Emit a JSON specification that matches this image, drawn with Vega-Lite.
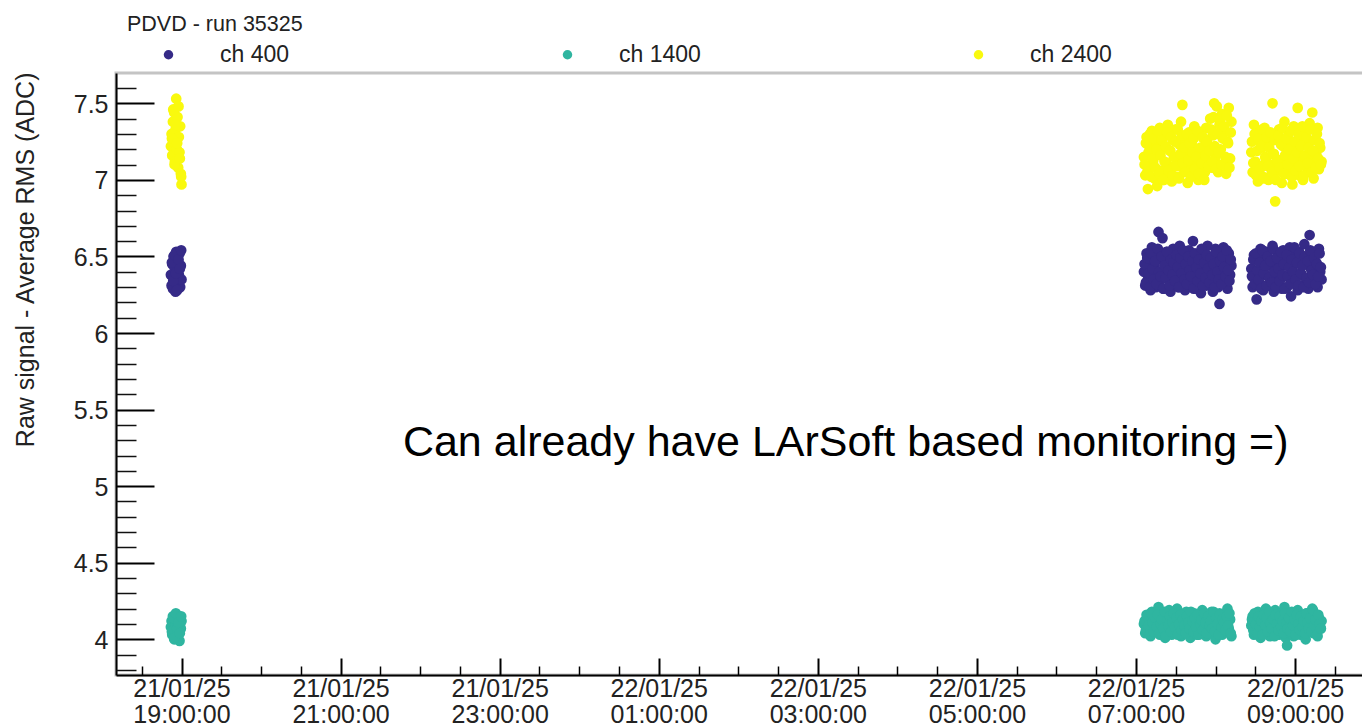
{
  "$schema": "https://vega.github.io/schema/vega-lite/v6.json",
  "width": 1249,
  "height": 602,
  "autosize": "none",
  "padding": {"left": 116, "top": 73, "right": -3, "bottom": 52},
  "background": "white",
  "config": {
    "font": "Liberation Sans",
    "view": {"stroke": "#c4c4c4", "strokeWidth": 3},
    "axis": {"grid": false, "labelFlush": false, "labelOverlap": false, "labelBound": false}
  },
  "title": {
    "text": "PDVD - run 35325",
    "anchor": "start",
    "frame": "group",
    "fontSize": 21.5,
    "fontWeight": "normal",
    "color": "#222",
    "baseline": "alphabetic",
    "offset": 16,
    "dy": 25,
    "dx": 11
  },
  "datasets": {
    "runs": [
      {"t": "2025-01-21T18:52:00", "ch 400": 6.38, "ch 1400": 4.08, "ch 2400": 7.22},
      {"t": "2025-01-21T18:52:30", "ch 400": 6.31, "ch 1400": 4.12, "ch 2400": 7.30},
      {"t": "2025-01-21T18:53:00", "ch 400": 6.45, "ch 1400": 4.03, "ch 2400": 7.16},
      {"t": "2025-01-21T18:53:30", "ch 400": 6.29, "ch 1400": 4.15, "ch 2400": 7.38},
      {"t": "2025-01-21T18:54:00", "ch 400": 6.50, "ch 1400": 4.06, "ch 2400": 7.25},
      {"t": "2025-01-21T18:54:30", "ch 400": 6.36, "ch 1400": 4.00, "ch 2400": 7.44},
      {"t": "2025-01-21T18:55:00", "ch 400": 6.42, "ch 1400": 4.13, "ch 2400": 7.12},
      {"t": "2025-01-21T18:55:30", "ch 400": 6.27, "ch 1400": 4.09, "ch 2400": 7.33},
      {"t": "2025-01-21T18:56:00", "ch 400": 6.53, "ch 1400": 4.16, "ch 2400": 7.53},
      {"t": "2025-01-21T18:56:30", "ch 400": 6.40, "ch 1400": 4.02, "ch 2400": 7.20},
      {"t": "2025-01-21T18:57:00", "ch 400": 6.33, "ch 1400": 4.11, "ch 2400": 7.41},
      {"t": "2025-01-21T18:57:30", "ch 400": 6.47, "ch 1400": 4.05, "ch 2400": 7.08},
      {"t": "2025-01-21T18:58:00", "ch 400": 6.38, "ch 1400": 4.14, "ch 2400": 7.28},
      {"t": "2025-01-21T18:58:30", "ch 400": 6.52, "ch 1400": 3.99, "ch 2400": 7.18},
      {"t": "2025-01-21T18:59:00", "ch 400": 6.30, "ch 1400": 4.10, "ch 2400": 7.35},
      {"t": "2025-01-21T18:59:30", "ch 400": 6.44, "ch 1400": 4.07, "ch 2400": 7.04},
      {"t": "2025-01-21T19:00:00", "ch 400": 6.35, "ch 1400": 4.12, "ch 2400": 6.97},
      {"t": "2025-01-21T18:52:45", "ch 400": 6.46, "ch 1400": 4.05, "ch 2400": 7.27},
      {"t": "2025-01-21T18:53:45", "ch 400": 6.34, "ch 1400": 4.14, "ch 2400": 7.46},
      {"t": "2025-01-21T18:54:45", "ch 400": 6.51, "ch 1400": 4.01, "ch 2400": 7.10},
      {"t": "2025-01-21T18:55:45", "ch 400": 6.39, "ch 1400": 4.17, "ch 2400": 7.36},
      {"t": "2025-01-21T18:56:45", "ch 400": 6.28, "ch 1400": 4.07, "ch 2400": 7.24},
      {"t": "2025-01-21T18:57:45", "ch 400": 6.48, "ch 1400": 4.11, "ch 2400": 7.48},
      {"t": "2025-01-21T18:58:45", "ch 400": 6.42, "ch 1400": 4.04, "ch 2400": 7.14},
      {"t": "2025-01-21T18:59:45", "ch 400": 6.54, "ch 1400": 4.15, "ch 2400": 7.02},
      {"t": "2025-01-22T07:06:00", "ch 400": 6.40, "ch 1400": 4.10, "ch 2400": 7.15},
      {"t": "2025-01-22T07:07:00", "ch 400": 6.31, "ch 1400": 4.04, "ch 2400": 7.03},
      {"t": "2025-01-22T07:08:00", "ch 400": 6.52, "ch 1400": 4.16, "ch 2400": 7.28},
      {"t": "2025-01-22T07:09:00", "ch 400": 6.35, "ch 1400": 4.07, "ch 2400": 6.94},
      {"t": "2025-01-22T07:10:00", "ch 400": 6.47, "ch 1400": 4.13, "ch 2400": 7.22},
      {"t": "2025-01-22T07:11:00", "ch 400": 6.28, "ch 1400": 4.02, "ch 2400": 7.08},
      {"t": "2025-01-22T07:12:00", "ch 400": 6.56, "ch 1400": 4.18, "ch 2400": 7.32},
      {"t": "2025-01-22T07:13:00", "ch 400": 6.38, "ch 1400": 4.09, "ch 2400": 7.12},
      {"t": "2025-01-22T07:14:00", "ch 400": 6.44, "ch 1400": 4.05, "ch 2400": 7.01},
      {"t": "2025-01-22T07:15:00", "ch 400": 6.30, "ch 1400": 4.15, "ch 2400": 7.25},
      {"t": "2025-01-22T07:16:00", "ch 400": 6.50, "ch 1400": 4.11, "ch 2400": 6.96},
      {"t": "2025-01-22T07:17:00", "ch 400": 6.66, "ch 1400": 4.21, "ch 2400": 7.18},
      {"t": "2025-01-22T07:18:00", "ch 400": 6.34, "ch 1400": 4.03, "ch 2400": 7.34},
      {"t": "2025-01-22T07:19:00", "ch 400": 6.48, "ch 1400": 4.14, "ch 2400": 7.06},
      {"t": "2025-01-22T07:20:00", "ch 400": 6.62, "ch 1400": 4.08, "ch 2400": 7.21},
      {"t": "2025-01-22T07:21:00", "ch 400": 6.29, "ch 1400": 4.17, "ch 2400": 7.00},
      {"t": "2025-01-22T07:22:00", "ch 400": 6.43, "ch 1400": 4.01, "ch 2400": 7.29},
      {"t": "2025-01-22T07:23:00", "ch 400": 6.53, "ch 1400": 4.12, "ch 2400": 7.11},
      {"t": "2025-01-22T07:24:00", "ch 400": 6.36, "ch 1400": 4.06, "ch 2400": 7.36},
      {"t": "2025-01-22T07:25:00", "ch 400": 6.46, "ch 1400": 4.19, "ch 2400": 7.04},
      {"t": "2025-01-22T07:26:00", "ch 400": 6.27, "ch 1400": 4.09, "ch 2400": 7.19},
      {"t": "2025-01-22T07:27:00", "ch 400": 6.41, "ch 1400": 4.03, "ch 2400": 6.99},
      {"t": "2025-01-22T07:28:00", "ch 400": 6.55, "ch 1400": 4.15, "ch 2400": 7.26},
      {"t": "2025-01-22T07:29:00", "ch 400": 6.33, "ch 1400": 4.10, "ch 2400": 7.09},
      {"t": "2025-01-22T07:30:00", "ch 400": 6.49, "ch 1400": 4.05, "ch 2400": 7.33},
      {"t": "2025-01-22T07:31:00", "ch 400": 6.39, "ch 1400": 4.20, "ch 2400": 7.14},
      {"t": "2025-01-22T07:32:00", "ch 400": 6.30, "ch 1400": 4.07, "ch 2400": 7.02},
      {"t": "2025-01-22T07:33:00", "ch 400": 6.57, "ch 1400": 4.13, "ch 2400": 7.23},
      {"t": "2025-01-22T07:34:00", "ch 400": 6.42, "ch 1400": 4.02, "ch 2400": 7.38},
      {"t": "2025-01-22T07:35:00", "ch 400": 6.35, "ch 1400": 4.16, "ch 2400": 7.49},
      {"t": "2025-01-22T07:36:00", "ch 400": 6.51, "ch 1400": 4.11, "ch 2400": 7.07},
      {"t": "2025-01-22T07:37:00", "ch 400": 6.28, "ch 1400": 4.04, "ch 2400": 7.27},
      {"t": "2025-01-22T07:38:00", "ch 400": 6.45, "ch 1400": 4.18, "ch 2400": 7.16},
      {"t": "2025-01-22T07:39:00", "ch 400": 6.37, "ch 1400": 4.08, "ch 2400": 6.98},
      {"t": "2025-01-22T07:40:00", "ch 400": 6.54, "ch 1400": 4.14, "ch 2400": 7.31},
      {"t": "2025-01-22T07:41:00", "ch 400": 6.32, "ch 1400": 4.01, "ch 2400": 7.10},
      {"t": "2025-01-22T07:42:00", "ch 400": 6.47, "ch 1400": 4.12, "ch 2400": 7.24},
      {"t": "2025-01-22T07:43:00", "ch 400": 6.60, "ch 1400": 4.06, "ch 2400": 7.03},
      {"t": "2025-01-22T07:44:00", "ch 400": 6.40, "ch 1400": 4.17, "ch 2400": 7.35},
      {"t": "2025-01-22T07:45:00", "ch 400": 6.29, "ch 1400": 4.09, "ch 2400": 7.13},
      {"t": "2025-01-22T07:46:00", "ch 400": 6.50, "ch 1400": 4.03, "ch 2400": 7.20},
      {"t": "2025-01-22T07:47:00", "ch 400": 6.36, "ch 1400": 4.15, "ch 2400": 7.00},
      {"t": "2025-01-22T07:48:00", "ch 400": 6.44, "ch 1400": 4.10, "ch 2400": 7.30},
      {"t": "2025-01-22T07:49:00", "ch 400": 6.26, "ch 1400": 4.05, "ch 2400": 7.08},
      {"t": "2025-01-22T07:50:00", "ch 400": 6.53, "ch 1400": 4.19, "ch 2400": 7.17},
      {"t": "2025-01-22T07:51:00", "ch 400": 6.38, "ch 1400": 4.07, "ch 2400": 7.27},
      {"t": "2025-01-22T07:52:00", "ch 400": 6.46, "ch 1400": 4.13, "ch 2400": 7.05},
      {"t": "2025-01-22T07:53:00", "ch 400": 6.31, "ch 1400": 4.02, "ch 2400": 7.34},
      {"t": "2025-01-22T07:54:00", "ch 400": 6.57, "ch 1400": 4.16, "ch 2400": 7.12},
      {"t": "2025-01-22T07:55:00", "ch 400": 6.41, "ch 1400": 4.11, "ch 2400": 7.22},
      {"t": "2025-01-22T07:56:00", "ch 400": 6.34, "ch 1400": 4.04, "ch 2400": 7.40},
      {"t": "2025-01-22T07:57:00", "ch 400": 6.49, "ch 1400": 4.18, "ch 2400": 7.08},
      {"t": "2025-01-22T07:58:00", "ch 400": 6.27, "ch 1400": 4.08, "ch 2400": 7.29},
      {"t": "2025-01-22T07:59:00", "ch 400": 6.43, "ch 1400": 4.14, "ch 2400": 7.50},
      {"t": "2025-01-22T08:00:00", "ch 400": 6.55, "ch 1400": 4.00, "ch 2400": 7.15},
      {"t": "2025-01-22T08:01:00", "ch 400": 6.37, "ch 1400": 4.12, "ch 2400": 7.48},
      {"t": "2025-01-22T08:02:00", "ch 400": 6.30, "ch 1400": 4.06, "ch 2400": 7.05},
      {"t": "2025-01-22T08:03:00", "ch 400": 6.19, "ch 1400": 4.17, "ch 2400": 7.36},
      {"t": "2025-01-22T08:04:00", "ch 400": 6.48, "ch 1400": 4.09, "ch 2400": 7.20},
      {"t": "2025-01-22T08:05:00", "ch 400": 6.40, "ch 1400": 4.03, "ch 2400": 7.43},
      {"t": "2025-01-22T08:06:00", "ch 400": 6.56, "ch 1400": 4.15, "ch 2400": 7.10},
      {"t": "2025-01-22T08:07:00", "ch 400": 6.33, "ch 1400": 4.10, "ch 2400": 7.32},
      {"t": "2025-01-22T08:08:00", "ch 400": 6.45, "ch 1400": 4.05, "ch 2400": 7.04},
      {"t": "2025-01-22T08:09:00", "ch 400": 6.29, "ch 1400": 4.20, "ch 2400": 7.25},
      {"t": "2025-01-22T08:10:00", "ch 400": 6.52, "ch 1400": 4.07, "ch 2400": 7.47},
      {"t": "2025-01-22T08:11:00", "ch 400": 6.38, "ch 1400": 4.13, "ch 2400": 7.14},
      {"t": "2025-01-22T08:12:00", "ch 400": 6.44, "ch 1400": 4.02, "ch 2400": 7.38},
      {"t": "2025-01-22T07:06:30", "ch 400": 6.45, "ch 1400": 4.12, "ch 2400": 7.10},
      {"t": "2025-01-22T07:07:30", "ch 400": 6.33, "ch 1400": 4.06, "ch 2400": 7.24},
      {"t": "2025-01-22T07:08:30", "ch 400": 6.49, "ch 1400": 4.15, "ch 2400": 7.05},
      {"t": "2025-01-22T07:09:30", "ch 400": 6.39, "ch 1400": 4.09, "ch 2400": 7.18},
      {"t": "2025-01-22T07:10:30", "ch 400": 6.30, "ch 1400": 4.03, "ch 2400": 7.30},
      {"t": "2025-01-22T07:11:30", "ch 400": 6.52, "ch 1400": 4.17, "ch 2400": 7.02},
      {"t": "2025-01-22T07:12:30", "ch 400": 6.42, "ch 1400": 4.11, "ch 2400": 7.14},
      {"t": "2025-01-22T07:13:30", "ch 400": 6.35, "ch 1400": 4.05, "ch 2400": 7.27},
      {"t": "2025-01-22T07:14:30", "ch 400": 6.47, "ch 1400": 4.14, "ch 2400": 7.08},
      {"t": "2025-01-22T07:15:30", "ch 400": 6.32, "ch 1400": 4.08, "ch 2400": 7.20},
      {"t": "2025-01-22T07:16:30", "ch 400": 6.55, "ch 1400": 4.16, "ch 2400": 7.32},
      {"t": "2025-01-22T07:17:30", "ch 400": 6.40, "ch 1400": 4.04, "ch 2400": 7.04},
      {"t": "2025-01-22T07:18:30", "ch 400": 6.37, "ch 1400": 4.10, "ch 2400": 7.16},
      {"t": "2025-01-22T07:19:30", "ch 400": 6.50, "ch 1400": 4.13, "ch 2400": 7.26},
      {"t": "2025-01-22T07:20:30", "ch 400": 6.29, "ch 1400": 4.07, "ch 2400": 7.00},
      {"t": "2025-01-22T07:21:30", "ch 400": 6.44, "ch 1400": 4.18, "ch 2400": 7.12},
      {"t": "2025-01-22T07:22:30", "ch 400": 6.36, "ch 1400": 4.02, "ch 2400": 7.22},
      {"t": "2025-01-22T07:23:30", "ch 400": 6.53, "ch 1400": 4.12, "ch 2400": 7.31},
      {"t": "2025-01-22T07:24:30", "ch 400": 6.41, "ch 1400": 4.09, "ch 2400": 7.06},
      {"t": "2025-01-22T07:25:30", "ch 400": 6.31, "ch 1400": 4.15, "ch 2400": 7.19},
      {"t": "2025-01-22T07:26:30", "ch 400": 6.48, "ch 1400": 4.05, "ch 2400": 7.28},
      {"t": "2025-01-22T07:27:30", "ch 400": 6.38, "ch 1400": 4.11, "ch 2400": 7.03},
      {"t": "2025-01-22T07:28:30", "ch 400": 6.46, "ch 1400": 4.17, "ch 2400": 7.15},
      {"t": "2025-01-22T07:29:30", "ch 400": 6.34, "ch 1400": 4.08, "ch 2400": 7.25},
      {"t": "2025-01-22T07:30:30", "ch 400": 6.51, "ch 1400": 4.14, "ch 2400": 7.09},
      {"t": "2025-01-22T07:31:30", "ch 400": 6.43, "ch 1400": 4.03, "ch 2400": 7.33},
      {"t": "2025-01-22T07:32:30", "ch 400": 6.30, "ch 1400": 4.10, "ch 2400": 7.01},
      {"t": "2025-01-22T07:33:30", "ch 400": 6.49, "ch 1400": 4.16, "ch 2400": 7.17},
      {"t": "2025-01-22T07:34:30", "ch 400": 6.39, "ch 1400": 4.06, "ch 2400": 7.29},
      {"t": "2025-01-22T07:35:30", "ch 400": 6.54, "ch 1400": 4.13, "ch 2400": 7.11},
      {"t": "2025-01-22T07:36:30", "ch 400": 6.35, "ch 1400": 4.09, "ch 2400": 7.21},
      {"t": "2025-01-22T07:37:30", "ch 400": 6.45, "ch 1400": 4.04, "ch 2400": 7.05},
      {"t": "2025-01-22T07:38:30", "ch 400": 6.32, "ch 1400": 4.15, "ch 2400": 7.30},
      {"t": "2025-01-22T07:39:30", "ch 400": 6.50, "ch 1400": 4.11, "ch 2400": 7.13},
      {"t": "2025-01-22T07:40:30", "ch 400": 6.41, "ch 1400": 4.07, "ch 2400": 7.24},
      {"t": "2025-01-22T07:41:30", "ch 400": 6.37, "ch 1400": 4.18, "ch 2400": 7.02},
      {"t": "2025-01-22T07:42:30", "ch 400": 6.47, "ch 1400": 4.12, "ch 2400": 7.18},
      {"t": "2025-01-22T07:43:30", "ch 400": 6.29, "ch 1400": 4.05, "ch 2400": 7.27},
      {"t": "2025-01-22T07:44:30", "ch 400": 6.52, "ch 1400": 4.14, "ch 2400": 7.07},
      {"t": "2025-01-22T07:45:30", "ch 400": 6.43, "ch 1400": 4.08, "ch 2400": 7.15},
      {"t": "2025-01-22T07:46:30", "ch 400": 6.34, "ch 1400": 4.16, "ch 2400": 7.32},
      {"t": "2025-01-22T07:47:30", "ch 400": 6.48, "ch 1400": 4.03, "ch 2400": 7.04},
      {"t": "2025-01-22T07:48:30", "ch 400": 6.39, "ch 1400": 4.10, "ch 2400": 7.21},
      {"t": "2025-01-22T07:49:30", "ch 400": 6.55, "ch 1400": 4.13, "ch 2400": 7.11},
      {"t": "2025-01-22T07:50:30", "ch 400": 6.31, "ch 1400": 4.06, "ch 2400": 7.28},
      {"t": "2025-01-22T07:51:30", "ch 400": 6.46, "ch 1400": 4.17, "ch 2400": 7.00},
      {"t": "2025-01-22T07:52:30", "ch 400": 6.36, "ch 1400": 4.11, "ch 2400": 7.16},
      {"t": "2025-01-22T07:53:30", "ch 400": 6.51, "ch 1400": 4.04, "ch 2400": 7.25},
      {"t": "2025-01-22T07:54:30", "ch 400": 6.42, "ch 1400": 4.15, "ch 2400": 7.09},
      {"t": "2025-01-22T07:55:30", "ch 400": 6.33, "ch 1400": 4.09, "ch 2400": 7.19},
      {"t": "2025-01-22T07:56:30", "ch 400": 6.49, "ch 1400": 4.12, "ch 2400": 7.33},
      {"t": "2025-01-22T07:57:30", "ch 400": 6.38, "ch 1400": 4.07, "ch 2400": 7.12},
      {"t": "2025-01-22T07:58:30", "ch 400": 6.45, "ch 1400": 4.18, "ch 2400": 7.41},
      {"t": "2025-01-22T07:59:30", "ch 400": 6.30, "ch 1400": 4.05, "ch 2400": 7.22},
      {"t": "2025-01-22T08:00:30", "ch 400": 6.53, "ch 1400": 4.14, "ch 2400": 7.07},
      {"t": "2025-01-22T08:01:30", "ch 400": 6.40, "ch 1400": 4.10, "ch 2400": 7.30},
      {"t": "2025-01-22T08:02:30", "ch 400": 6.35, "ch 1400": 4.03, "ch 2400": 7.18},
      {"t": "2025-01-22T08:03:30", "ch 400": 6.47, "ch 1400": 4.16, "ch 2400": 7.39},
      {"t": "2025-01-22T08:04:30", "ch 400": 6.32, "ch 1400": 4.08, "ch 2400": 7.10},
      {"t": "2025-01-22T08:05:30", "ch 400": 6.50, "ch 1400": 4.13, "ch 2400": 7.27},
      {"t": "2025-01-22T08:06:30", "ch 400": 6.43, "ch 1400": 4.11, "ch 2400": 7.35},
      {"t": "2025-01-22T08:07:30", "ch 400": 6.37, "ch 1400": 4.06, "ch 2400": 7.15},
      {"t": "2025-01-22T08:08:30", "ch 400": 6.54, "ch 1400": 4.15, "ch 2400": 7.42},
      {"t": "2025-01-22T08:09:30", "ch 400": 6.41, "ch 1400": 4.09, "ch 2400": 7.24},
      {"t": "2025-01-22T08:10:30", "ch 400": 6.34, "ch 1400": 4.17, "ch 2400": 7.08},
      {"t": "2025-01-22T08:11:30", "ch 400": 6.48, "ch 1400": 4.04, "ch 2400": 7.31},
      {"t": "2025-01-22T08:27:00", "ch 400": 6.42, "ch 1400": 4.09, "ch 2400": 7.18},
      {"t": "2025-01-22T08:28:00", "ch 400": 6.30, "ch 1400": 4.15, "ch 2400": 7.05},
      {"t": "2025-01-22T08:29:00", "ch 400": 6.51, "ch 1400": 4.03, "ch 2400": 7.36},
      {"t": "2025-01-22T08:30:00", "ch 400": 6.36, "ch 1400": 4.12, "ch 2400": 7.12},
      {"t": "2025-01-22T08:31:00", "ch 400": 6.22, "ch 1400": 4.06, "ch 2400": 7.26},
      {"t": "2025-01-22T08:32:00", "ch 400": 6.47, "ch 1400": 4.18, "ch 2400": 6.99},
      {"t": "2025-01-22T08:33:00", "ch 400": 6.33, "ch 1400": 4.08, "ch 2400": 7.31},
      {"t": "2025-01-22T08:34:00", "ch 400": 6.55, "ch 1400": 4.01, "ch 2400": 7.09},
      {"t": "2025-01-22T08:35:00", "ch 400": 6.40, "ch 1400": 4.14, "ch 2400": 7.21},
      {"t": "2025-01-22T08:36:00", "ch 400": 6.28, "ch 1400": 4.10, "ch 2400": 7.02},
      {"t": "2025-01-22T08:37:00", "ch 400": 6.49, "ch 1400": 4.04, "ch 2400": 7.34},
      {"t": "2025-01-22T08:38:00", "ch 400": 6.38, "ch 1400": 4.20, "ch 2400": 7.14},
      {"t": "2025-01-22T08:39:00", "ch 400": 6.53, "ch 1400": 4.07, "ch 2400": 7.24},
      {"t": "2025-01-22T08:40:00", "ch 400": 6.31, "ch 1400": 4.13, "ch 2400": 7.00},
      {"t": "2025-01-22T08:41:00", "ch 400": 6.44, "ch 1400": 4.02, "ch 2400": 7.29},
      {"t": "2025-01-22T08:42:00", "ch 400": 6.35, "ch 1400": 4.16, "ch 2400": 7.10},
      {"t": "2025-01-22T08:43:00", "ch 400": 6.57, "ch 1400": 4.11, "ch 2400": 7.50},
      {"t": "2025-01-22T08:44:00", "ch 400": 6.27, "ch 1400": 4.05, "ch 2400": 7.17},
      {"t": "2025-01-22T08:45:00", "ch 400": 6.46, "ch 1400": 4.19, "ch 2400": 6.86},
      {"t": "2025-01-22T08:46:00", "ch 400": 6.39, "ch 1400": 4.08, "ch 2400": 7.27},
      {"t": "2025-01-22T08:47:00", "ch 400": 6.52, "ch 1400": 4.14, "ch 2400": 7.06},
      {"t": "2025-01-22T08:48:00", "ch 400": 6.32, "ch 1400": 4.03, "ch 2400": 7.33},
      {"t": "2025-01-22T08:49:00", "ch 400": 6.43, "ch 1400": 4.17, "ch 2400": 7.13},
      {"t": "2025-01-22T08:50:00", "ch 400": 6.29, "ch 1400": 4.10, "ch 2400": 6.98},
      {"t": "2025-01-22T08:51:00", "ch 400": 6.54, "ch 1400": 4.06, "ch 2400": 7.22},
      {"t": "2025-01-22T08:52:00", "ch 400": 6.37, "ch 1400": 4.21, "ch 2400": 7.38},
      {"t": "2025-01-22T08:53:00", "ch 400": 6.48, "ch 1400": 4.01, "ch 2400": 7.04},
      {"t": "2025-01-22T08:54:00", "ch 400": 6.30, "ch 1400": 3.96, "ch 2400": 7.19},
      {"t": "2025-01-22T08:55:00", "ch 400": 6.45, "ch 1400": 4.12, "ch 2400": 7.30},
      {"t": "2025-01-22T08:56:00", "ch 400": 6.56, "ch 1400": 4.04, "ch 2400": 7.08},
      {"t": "2025-01-22T08:57:00", "ch 400": 6.24, "ch 1400": 4.16, "ch 2400": 7.25},
      {"t": "2025-01-22T08:58:00", "ch 400": 6.41, "ch 1400": 4.09, "ch 2400": 6.97},
      {"t": "2025-01-22T08:59:00", "ch 400": 6.50, "ch 1400": 4.02, "ch 2400": 7.35},
      {"t": "2025-01-22T09:00:00", "ch 400": 6.34, "ch 1400": 4.14, "ch 2400": 7.11},
      {"t": "2025-01-22T09:01:00", "ch 400": 6.46, "ch 1400": 4.07, "ch 2400": 7.20},
      {"t": "2025-01-22T09:02:00", "ch 400": 6.28, "ch 1400": 4.19, "ch 2400": 7.47},
      {"t": "2025-01-22T09:03:00", "ch 400": 6.53, "ch 1400": 4.11, "ch 2400": 7.03},
      {"t": "2025-01-22T09:04:00", "ch 400": 6.38, "ch 1400": 4.03, "ch 2400": 7.28},
      {"t": "2025-01-22T09:05:00", "ch 400": 6.44, "ch 1400": 4.15, "ch 2400": 7.15},
      {"t": "2025-01-22T09:06:00", "ch 400": 6.31, "ch 1400": 4.08, "ch 2400": 7.00},
      {"t": "2025-01-22T09:07:00", "ch 400": 6.58, "ch 1400": 4.12, "ch 2400": 7.32},
      {"t": "2025-01-22T09:08:00", "ch 400": 6.36, "ch 1400": 4.00, "ch 2400": 7.09},
      {"t": "2025-01-22T09:09:00", "ch 400": 6.49, "ch 1400": 4.17, "ch 2400": 7.23},
      {"t": "2025-01-22T09:10:00", "ch 400": 6.29, "ch 1400": 4.06, "ch 2400": 7.05},
      {"t": "2025-01-22T09:11:00", "ch 400": 6.64, "ch 1400": 4.13, "ch 2400": 7.37},
      {"t": "2025-01-22T09:12:00", "ch 400": 6.42, "ch 1400": 4.09, "ch 2400": 7.13},
      {"t": "2025-01-22T09:13:00", "ch 400": 6.33, "ch 1400": 4.20, "ch 2400": 7.44},
      {"t": "2025-01-22T09:14:00", "ch 400": 6.51, "ch 1400": 4.04, "ch 2400": 7.01},
      {"t": "2025-01-22T09:15:00", "ch 400": 6.38, "ch 1400": 4.11, "ch 2400": 7.26},
      {"t": "2025-01-22T09:16:00", "ch 400": 6.46, "ch 1400": 4.16, "ch 2400": 7.17},
      {"t": "2025-01-22T09:17:00", "ch 400": 6.30, "ch 1400": 4.02, "ch 2400": 7.34},
      {"t": "2025-01-22T09:18:00", "ch 400": 6.55, "ch 1400": 4.14, "ch 2400": 7.07},
      {"t": "2025-01-22T09:19:00", "ch 400": 6.40, "ch 1400": 4.08, "ch 2400": 7.21},
      {"t": "2025-01-22T09:20:00", "ch 400": 6.35, "ch 1400": 4.12, "ch 2400": 7.12},
      {"t": "2025-01-22T08:27:30", "ch 400": 6.37, "ch 1400": 4.13, "ch 2400": 7.25},
      {"t": "2025-01-22T08:28:30", "ch 400": 6.48, "ch 1400": 4.06, "ch 2400": 7.11},
      {"t": "2025-01-22T08:29:30", "ch 400": 6.32, "ch 1400": 4.17, "ch 2400": 7.30},
      {"t": "2025-01-22T08:30:30", "ch 400": 6.52, "ch 1400": 4.10, "ch 2400": 7.03},
      {"t": "2025-01-22T08:31:30", "ch 400": 6.41, "ch 1400": 4.04, "ch 2400": 7.19},
      {"t": "2025-01-22T08:32:30", "ch 400": 6.35, "ch 1400": 4.15, "ch 2400": 7.27},
      {"t": "2025-01-22T08:33:30", "ch 400": 6.46, "ch 1400": 4.08, "ch 2400": 7.07},
      {"t": "2025-01-22T08:34:30", "ch 400": 6.29, "ch 1400": 4.12, "ch 2400": 7.22},
      {"t": "2025-01-22T08:35:30", "ch 400": 6.54, "ch 1400": 4.03, "ch 2400": 7.33},
      {"t": "2025-01-22T08:36:30", "ch 400": 6.39, "ch 1400": 4.16, "ch 2400": 7.01},
      {"t": "2025-01-22T08:37:30", "ch 400": 6.44, "ch 1400": 4.09, "ch 2400": 7.15},
      {"t": "2025-01-22T08:38:30", "ch 400": 6.31, "ch 1400": 4.14, "ch 2400": 7.28},
      {"t": "2025-01-22T08:39:30", "ch 400": 6.50, "ch 1400": 4.05, "ch 2400": 7.09},
      {"t": "2025-01-22T08:40:30", "ch 400": 6.36, "ch 1400": 4.18, "ch 2400": 7.21},
      {"t": "2025-01-22T08:41:30", "ch 400": 6.47, "ch 1400": 4.11, "ch 2400": 7.31},
      {"t": "2025-01-22T08:42:30", "ch 400": 6.33, "ch 1400": 4.07, "ch 2400": 7.05},
      {"t": "2025-01-22T08:43:30", "ch 400": 6.55, "ch 1400": 4.13, "ch 2400": 7.17},
      {"t": "2025-01-22T08:44:30", "ch 400": 6.40, "ch 1400": 4.02, "ch 2400": 7.26},
      {"t": "2025-01-22T08:45:30", "ch 400": 6.30, "ch 1400": 4.16, "ch 2400": 7.00},
      {"t": "2025-01-22T08:46:30", "ch 400": 6.49, "ch 1400": 4.10, "ch 2400": 7.13},
      {"t": "2025-01-22T08:47:30", "ch 400": 6.42, "ch 1400": 4.06, "ch 2400": 7.29},
      {"t": "2025-01-22T08:48:30", "ch 400": 6.34, "ch 1400": 4.15, "ch 2400": 7.08},
      {"t": "2025-01-22T08:49:30", "ch 400": 6.53, "ch 1400": 4.08, "ch 2400": 7.23},
      {"t": "2025-01-22T08:50:30", "ch 400": 6.38, "ch 1400": 4.12, "ch 2400": 7.34},
      {"t": "2025-01-22T08:51:30", "ch 400": 6.45, "ch 1400": 4.04, "ch 2400": 7.04},
      {"t": "2025-01-22T08:52:30", "ch 400": 6.29, "ch 1400": 4.17, "ch 2400": 7.16},
      {"t": "2025-01-22T08:53:30", "ch 400": 6.51, "ch 1400": 4.11, "ch 2400": 7.27},
      {"t": "2025-01-22T08:54:30", "ch 400": 6.37, "ch 1400": 4.07, "ch 2400": 7.10},
      {"t": "2025-01-22T08:55:30", "ch 400": 6.43, "ch 1400": 4.14, "ch 2400": 7.20},
      {"t": "2025-01-22T08:56:30", "ch 400": 6.32, "ch 1400": 4.05, "ch 2400": 7.32},
      {"t": "2025-01-22T08:57:30", "ch 400": 6.48, "ch 1400": 4.18, "ch 2400": 7.02},
      {"t": "2025-01-22T08:58:30", "ch 400": 6.40, "ch 1400": 4.09, "ch 2400": 7.14},
      {"t": "2025-01-22T08:59:30", "ch 400": 6.56, "ch 1400": 4.13, "ch 2400": 7.25},
      {"t": "2025-01-22T09:00:30", "ch 400": 6.35, "ch 1400": 4.03, "ch 2400": 7.06},
      {"t": "2025-01-22T09:01:30", "ch 400": 6.46, "ch 1400": 4.16, "ch 2400": 7.18},
      {"t": "2025-01-22T09:02:30", "ch 400": 6.31, "ch 1400": 4.10, "ch 2400": 7.30},
      {"t": "2025-01-22T09:03:30", "ch 400": 6.52, "ch 1400": 4.06, "ch 2400": 7.09},
      {"t": "2025-01-22T09:04:30", "ch 400": 6.39, "ch 1400": 4.15, "ch 2400": 7.22},
      {"t": "2025-01-22T09:05:30", "ch 400": 6.44, "ch 1400": 4.08, "ch 2400": 7.35},
      {"t": "2025-01-22T09:06:30", "ch 400": 6.30, "ch 1400": 4.12, "ch 2400": 7.03},
      {"t": "2025-01-22T09:07:30", "ch 400": 6.50, "ch 1400": 4.04, "ch 2400": 7.16},
      {"t": "2025-01-22T09:08:30", "ch 400": 6.36, "ch 1400": 4.17, "ch 2400": 7.28},
      {"t": "2025-01-22T09:09:30", "ch 400": 6.47, "ch 1400": 4.11, "ch 2400": 7.11},
      {"t": "2025-01-22T09:10:30", "ch 400": 6.33, "ch 1400": 4.07, "ch 2400": 7.21},
      {"t": "2025-01-22T09:11:30", "ch 400": 6.54, "ch 1400": 4.14, "ch 2400": 7.33},
      {"t": "2025-01-22T09:12:30", "ch 400": 6.41, "ch 1400": 4.05, "ch 2400": 7.05},
      {"t": "2025-01-22T09:13:30", "ch 400": 6.38, "ch 1400": 4.19, "ch 2400": 7.19},
      {"t": "2025-01-22T09:14:30", "ch 400": 6.49, "ch 1400": 4.09, "ch 2400": 7.26},
      {"t": "2025-01-22T09:15:30", "ch 400": 6.32, "ch 1400": 4.13, "ch 2400": 7.08},
      {"t": "2025-01-22T09:16:30", "ch 400": 6.45, "ch 1400": 4.03, "ch 2400": 7.30},
      {"t": "2025-01-22T09:17:30", "ch 400": 6.37, "ch 1400": 4.16, "ch 2400": 7.14},
      {"t": "2025-01-22T09:18:30", "ch 400": 6.52, "ch 1400": 4.10, "ch 2400": 7.24},
      {"t": "2025-01-22T09:19:30", "ch 400": 6.43, "ch 1400": 4.07, "ch 2400": 7.10}
    ],
    "notes": [
      {"note": "Can already have LArSoft based monitoring =)", "t": "2025-01-21T21:47:00", "v": 5.2}
    ]
  },
  "layer": [
    {
      "data": {"name": "runs"},
      "transform": [{"fold": ["ch 400", "ch 1400", "ch 2400"], "as": ["ch", "v"]}],
      "mark": {"type": "circle", "size": 115, "opacity": 1},
      "encoding": {
        "x": {
          "field": "t", "type": "temporal",
          "scale": {"domain": [
            {"year": 2025, "month": 1, "date": 21, "hours": 18, "minutes": 10, "seconds": 35},
            {"year": 2025, "month": 1, "date": 22, "hours": 9, "minutes": 52, "seconds": 46}
          ]},
          "axis": {
            "orient": "bottom",
            "title": null,
            "values": [
              {"year": 2025, "month": 1, "date": 21, "hours": 19},
              {"year": 2025, "month": 1, "date": 21, "hours": 21},
              {"year": 2025, "month": 1, "date": 21, "hours": 23},
              {"year": 2025, "month": 1, "date": 22, "hours": 1},
              {"year": 2025, "month": 1, "date": 22, "hours": 3},
              {"year": 2025, "month": 1, "date": 22, "hours": 5},
              {"year": 2025, "month": 1, "date": 22, "hours": 7},
              {"year": 2025, "month": 1, "date": 22, "hours": 9}
            ],
            "labelExpr": "[timeFormat(datum.value, '%d/%m/%y'), timeFormat(datum.value, '%H:%M:%S')]",
            "labelFontSize": 25,
            "labelLineHeight": 26,
            "labelColor": "#222",
            "labelBaseline": "top",
            "labelAlign": "center",
            "labelPadding": 18,
            "tickSize": -17,
            "tickWidth": 2,
            "tickColor": "#000",
            "domainColor": "#000",
            "domainWidth": 2
          }
        },
        "y": {
          "field": "v", "type": "quantitative",
          "scale": {"domain": [3.767, 7.698], "zero": false, "nice": false},
          "axis": {
            "orient": "left",
            "values": [4, 4.5, 5, 5.5, 6, 6.5, 7, 7.5],
            "format": "~g",
            "labelFontSize": 25,
            "labelColor": "#222",
            "labelPadding": 46,
            "labelOffset": 1,
            "tickSize": -38,
            "tickWidth": 2,
            "tickColor": "#000",
            "domainColor": "#000",
            "domainWidth": 2,
            "title": "Raw signal - Average RMS (ADC)",
            "titleFontSize": 25,
            "titleFontWeight": "normal",
            "titleColor": "#222",
            "titleAngle": 270,
            "titleAlign": "right",
            "titleBaseline": "bottom",
            "titleX": -78,
            "titleY": -1
          }
        },
        "color": {
          "field": "ch", "type": "nominal",
          "scale": {"domain": ["ch 400", "ch 1400", "ch 2400"], "range": ["#352a87", "#2fb5a0", "#f9f90e"]},
          "legend": {
            "title": null,
            "orient": "none",
            "direction": "horizontal",
            "legendX": 41,
            "legendY": -30,
            "symbolType": "circle",
            "symbolSize": 90,
            "symbolStrokeWidth": 0,
            "labelFontSize": 23,
            "labelColor": "#222",
            "labelOffset": 40,
            "columnPadding": 266
          }
        }
      }
    },
    {
      "data": {"name": "runs"},
      "transform": [{"fold": ["ch 400", "ch 1400", "ch 2400"], "as": ["ch", "v"]}],
      "mark": {"type": "circle", "opacity": 0},
      "encoding": {
        "x": {
          "field": "t", "type": "temporal",
          "axis": {
            "orient": "bottom",
            "title": null,
            "labels": false,
            "domain": false,
            "values": [
              {"year": 2025, "month": 1, "date": 21, "hours": 18, "minutes": 30},
              {"year": 2025, "month": 1, "date": 21, "hours": 19, "minutes": 30},
              {"year": 2025, "month": 1, "date": 21, "hours": 20, "minutes": 0},
              {"year": 2025, "month": 1, "date": 21, "hours": 20, "minutes": 30},
              {"year": 2025, "month": 1, "date": 21, "hours": 21, "minutes": 30},
              {"year": 2025, "month": 1, "date": 21, "hours": 22, "minutes": 0},
              {"year": 2025, "month": 1, "date": 21, "hours": 22, "minutes": 30},
              {"year": 2025, "month": 1, "date": 21, "hours": 23, "minutes": 30},
              {"year": 2025, "month": 1, "date": 22, "hours": 0, "minutes": 0},
              {"year": 2025, "month": 1, "date": 22, "hours": 0, "minutes": 30},
              {"year": 2025, "month": 1, "date": 22, "hours": 1, "minutes": 30},
              {"year": 2025, "month": 1, "date": 22, "hours": 2, "minutes": 0},
              {"year": 2025, "month": 1, "date": 22, "hours": 2, "minutes": 30},
              {"year": 2025, "month": 1, "date": 22, "hours": 3, "minutes": 30},
              {"year": 2025, "month": 1, "date": 22, "hours": 4, "minutes": 0},
              {"year": 2025, "month": 1, "date": 22, "hours": 4, "minutes": 30},
              {"year": 2025, "month": 1, "date": 22, "hours": 5, "minutes": 30},
              {"year": 2025, "month": 1, "date": 22, "hours": 6, "minutes": 0},
              {"year": 2025, "month": 1, "date": 22, "hours": 6, "minutes": 30},
              {"year": 2025, "month": 1, "date": 22, "hours": 7, "minutes": 30},
              {"year": 2025, "month": 1, "date": 22, "hours": 8, "minutes": 0},
              {"year": 2025, "month": 1, "date": 22, "hours": 8, "minutes": 30},
              {"year": 2025, "month": 1, "date": 22, "hours": 9, "minutes": 30}
            ],
            "tickSize": -9,
            "tickWidth": 1.5,
            "tickColor": "#000"
          }
        },
        "y": {
          "field": "v", "type": "quantitative",
          "axis": {
            "orient": "left",
            "title": null,
            "labels": false,
            "domain": false,
            "values": [3.8, 3.9, 4.1, 4.2, 4.3, 4.4, 4.6, 4.7, 4.8, 4.9, 5.1, 5.2, 5.3, 5.4, 5.6, 5.7, 5.8, 5.9, 6.1, 6.2, 6.3, 6.4, 6.6, 6.7, 6.8, 6.9, 7.1, 7.2, 7.3, 7.4, 7.6],
            "tickSize": -20,
            "tickWidth": 1.5,
            "tickColor": "#111"
          }
        }
      }
    },
    {
      "data": {"name": "notes"},
      "mark": {"type": "text", "align": "left", "baseline": "alphabetic", "fontSize": 43, "font": "Liberation Sans", "color": "#000"},
      "encoding": {
        "x": {"field": "t", "type": "temporal", "axis": null},
        "y": {"field": "v", "type": "quantitative", "axis": null},
        "text": {"field": "note"}
      }
    }
  ],
  "resolve": {"axis": {"x": "independent", "y": "independent"}}
}
